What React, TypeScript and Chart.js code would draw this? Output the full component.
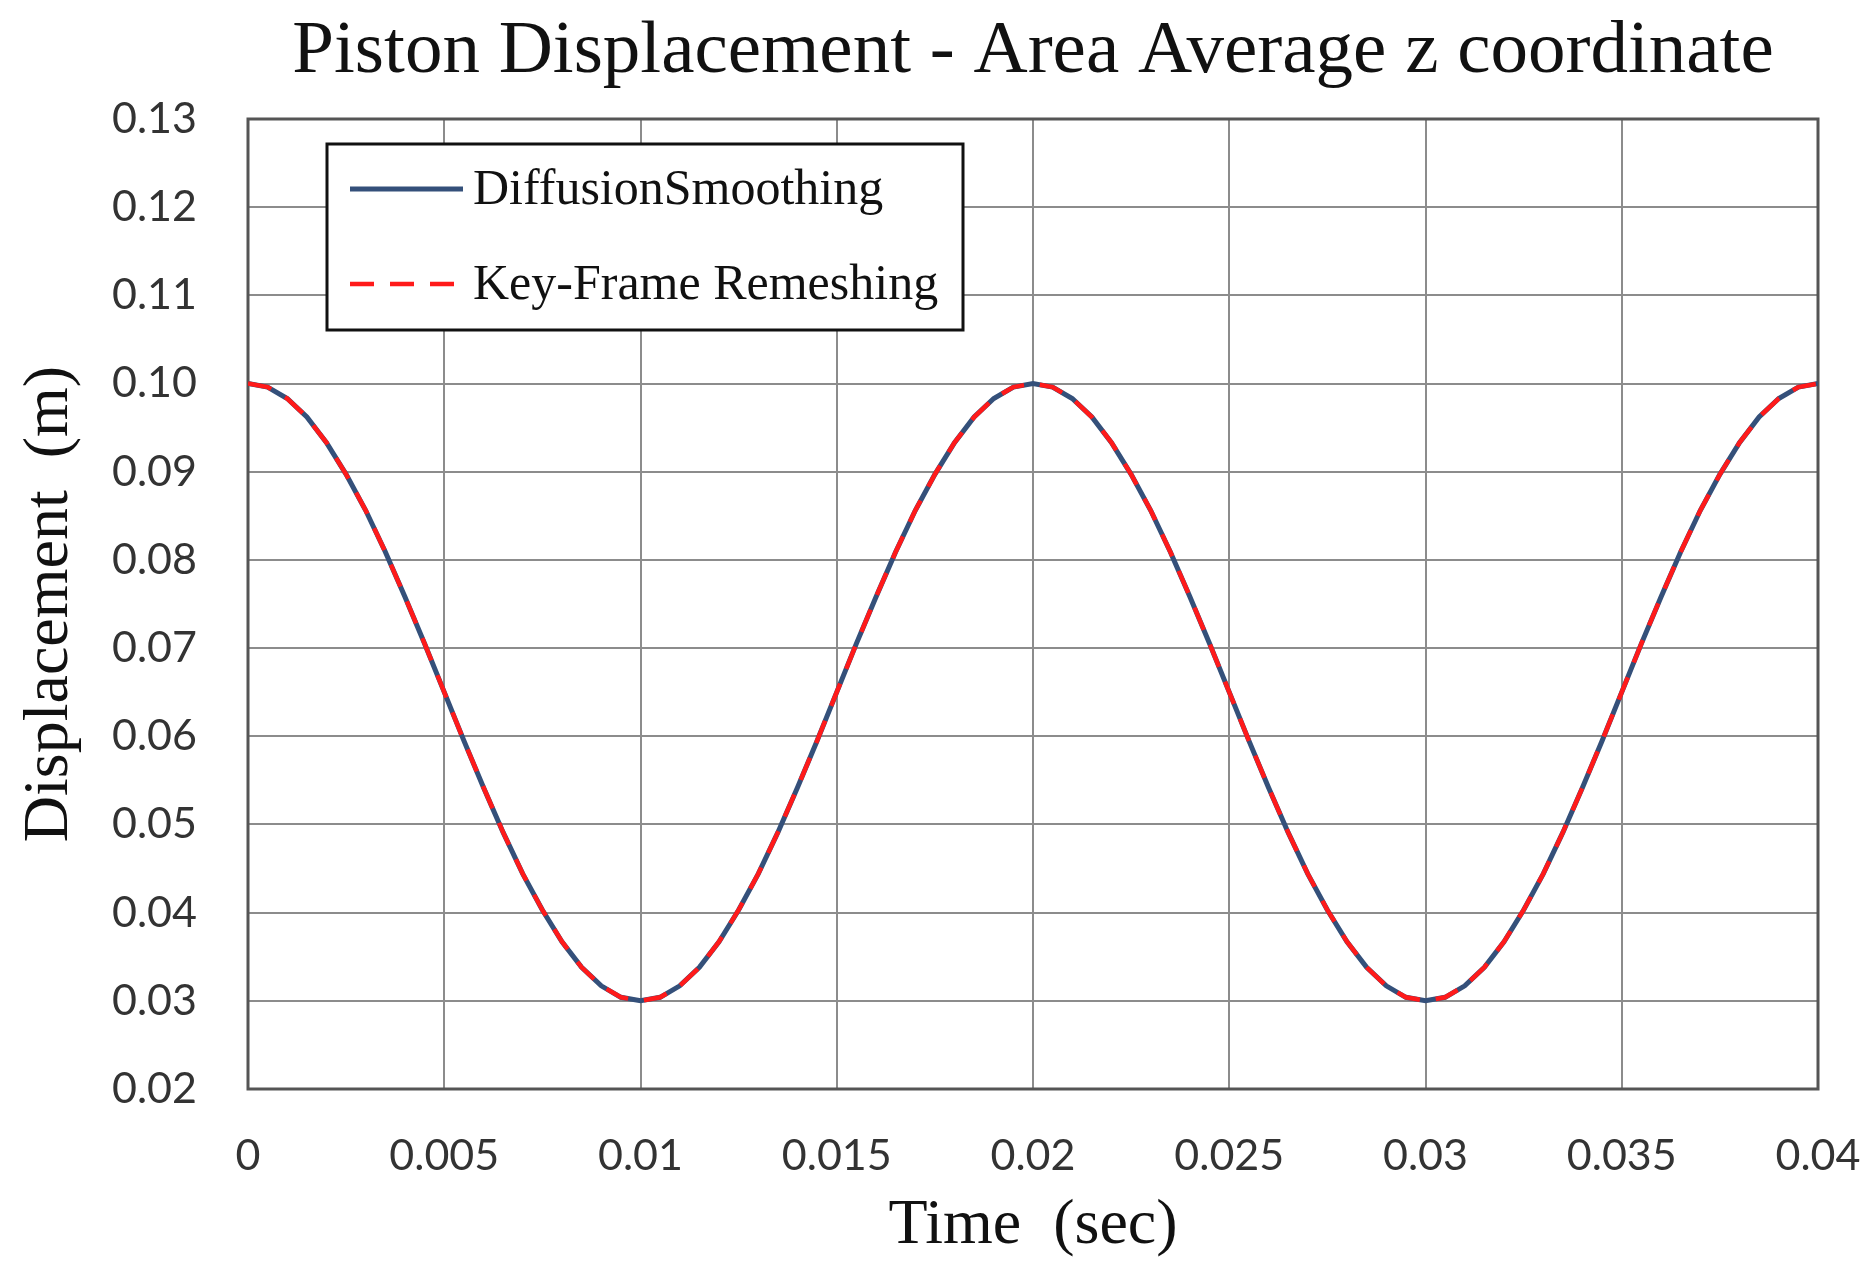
import React, { useEffect, useRef } from "react";
import { Chart, registerables } from "chart.js";

Chart.register(...registerables);

const TITLE = "Piston Displacement - Area Average z coordinate";
const X_TITLE = "Time  (sec)";
const Y_TITLE = "Displacement  (m)";
const SERIES_NAMES = ["DiffusionSmoothing", "Key-Frame Remeshing"];
const SERIES_COLORS = ["#34507a", "#ff1a1a"];

const timeSec = [
  0, 0.0005, 0.001, 0.0015, 0.002, 0.0025, 0.003, 0.0035, 0.004, 0.0045,
  0.005, 0.0055, 0.006, 0.0065, 0.007, 0.0075, 0.008, 0.0085, 0.009, 0.0095,
  0.01, 0.0105, 0.011, 0.0115, 0.012, 0.0125, 0.013, 0.0135, 0.014, 0.0145,
  0.015, 0.0155, 0.016, 0.0165, 0.017, 0.0175, 0.018, 0.0185, 0.019, 0.0195,
  0.02, 0.0205, 0.021, 0.0215, 0.022, 0.0225, 0.023, 0.0235, 0.024, 0.0245,
  0.025, 0.0255, 0.026, 0.0265, 0.027, 0.0275, 0.028, 0.0285, 0.029, 0.0295,
  0.03, 0.0305, 0.031, 0.0315, 0.032, 0.0325, 0.033, 0.0335, 0.034, 0.0345,
  0.035, 0.0355, 0.036, 0.0365, 0.037, 0.0375, 0.038, 0.0385, 0.039, 0.0395,
  0.04,
];

const diffusionSmoothing = [
  0.1, 0.0996, 0.0983, 0.0962, 0.0933, 0.0897, 0.0856, 0.0809, 0.0758, 0.0705,
  0.065, 0.0595, 0.0542, 0.0491, 0.0444, 0.0403, 0.0367, 0.0338, 0.0317, 0.0304,
  0.03, 0.0304, 0.0317, 0.0338, 0.0367, 0.0403, 0.0444, 0.0491, 0.0542, 0.0595,
  0.065, 0.0705, 0.0758, 0.0809, 0.0856, 0.0897, 0.0933, 0.0962, 0.0983, 0.0996,
  0.1, 0.0996, 0.0983, 0.0962, 0.0933, 0.0897, 0.0856, 0.0809, 0.0758, 0.0705,
  0.065, 0.0595, 0.0542, 0.0491, 0.0444, 0.0403, 0.0367, 0.0338, 0.0317, 0.0304,
  0.03, 0.0304, 0.0317, 0.0338, 0.0367, 0.0403, 0.0444, 0.0491, 0.0542, 0.0595,
  0.065, 0.0705, 0.0758, 0.0809, 0.0856, 0.0897, 0.0933, 0.0962, 0.0983, 0.0996,
  0.1,
];

const keyFrameRemeshing = [
  0.1, 0.0996, 0.0983, 0.0962, 0.0933, 0.0897, 0.0856, 0.0809, 0.0758, 0.0705,
  0.065, 0.0595, 0.0542, 0.0491, 0.0444, 0.0403, 0.0367, 0.0338, 0.0317, 0.0304,
  0.03, 0.0304, 0.0317, 0.0338, 0.0367, 0.0403, 0.0444, 0.0491, 0.0542, 0.0595,
  0.065, 0.0705, 0.0758, 0.0809, 0.0856, 0.0897, 0.0933, 0.0962, 0.0983, 0.0996,
  0.1, 0.0996, 0.0983, 0.0962, 0.0933, 0.0897, 0.0856, 0.0809, 0.0758, 0.0705,
  0.065, 0.0595, 0.0542, 0.0491, 0.0444, 0.0403, 0.0367, 0.0338, 0.0317, 0.0304,
  0.03, 0.0304, 0.0317, 0.0338, 0.0367, 0.0403, 0.0444, 0.0491, 0.0542, 0.0595,
  0.065, 0.0705, 0.0758, 0.0809, 0.0856, 0.0897, 0.0933, 0.0962, 0.0983, 0.0996,
  0.1,
];

const xTickValues = [0, 0.005, 0.01, 0.015, 0.02, 0.025, 0.03, 0.035, 0.04];
const xTickLabels = ["0", "0.005", "0.01", "0.015", "0.02", "0.025", "0.03", "0.035", "0.04"];
const yTickValues = [0.02, 0.03, 0.04, 0.05, 0.06, 0.07, 0.08, 0.09, 0.1, 0.11, 0.12, 0.13];
const yTickLabels = ["0.02", "0.03", "0.04", "0.05", "0.06", "0.07", "0.08", "0.09", "0.10", "0.11", "0.12", "0.13"];

const SERIF = "'Liberation Serif', 'Times New Roman', serif";
const SANS = "Lato, 'Open Sans', sans-serif";

const centerTitlePlugin = {
  id: "centerTitle",
  afterLayout(chart: any) {
    const tb = chart.titleBlock;
    if (tb) {
      tb.left = chart.chartArea.left;
      tb.right = chart.chartArea.right;
    }
  },
};

const framePlugin = {
  id: "frame",
  beforeDatasetsDraw(chart: any) {
    const { ctx, chartArea } = chart;
    ctx.save();
    ctx.strokeStyle = "#555555";
    ctx.lineWidth = 3;
    ctx.strokeRect(chartArea.left, chartArea.top, chartArea.right - chartArea.left, chartArea.bottom - chartArea.top);
    ctx.restore();
  },
};

const boxLegendPlugin = {
  id: "boxLegend",
  afterDraw(chart: any) {
    const { ctx, chartArea } = chart;
    const left = chartArea.left + 79;
    const top = chartArea.top + 25;
    const w = 636;
    const h = 186;
    ctx.save();
    ctx.fillStyle = "#ffffff";
    ctx.fillRect(left, top, w, h);
    ctx.strokeStyle = "#111111";
    ctx.lineWidth = 3;
    ctx.strokeRect(left, top, w, h);
    const rows = [top + 45, top + 140];
    chart.data.datasets.forEach((ds: any, i: number) => {
      const y = rows[i];
      ctx.beginPath();
      ctx.strokeStyle = ds.borderColor;
      ctx.lineWidth = ds.borderWidth;
      ctx.setLineDash(ds.borderDash || []);
      ctx.moveTo(left + 23, y);
      ctx.lineTo(left + 136, y);
      ctx.stroke();
      ctx.setLineDash([]);
      ctx.fillStyle = "#111111";
      ctx.font = `50px ${SERIF}`;
      ctx.textBaseline = "middle";
      ctx.textAlign = "left";
      ctx.fillText(ds.label, left + 146, y + 2);
    });
    ctx.restore();
  },
};

export default function App() {
  const canvasRef = useRef<HTMLCanvasElement | null>(null);

  useEffect(() => {
    if (!canvasRef.current) return;
    const chart = new Chart(canvasRef.current, {
      type: "line",
      data: {
        datasets: [
          {
            label: SERIES_NAMES[0],
            data: timeSec.map((t, i) => ({ x: t, y: diffusionSmoothing[i] })),
            borderColor: SERIES_COLORS[0],
            borderWidth: 5,
            pointRadius: 0,
            tension: 0,
            fill: false,
            order: 2,
          },
          {
            label: SERIES_NAMES[1],
            data: timeSec.map((t, i) => ({ x: t, y: keyFrameRemeshing[i] })),
            borderColor: SERIES_COLORS[1],
            borderWidth: 4.5,
            borderDash: [24, 16],
            pointRadius: 0,
            tension: 0,
            fill: false,
            order: 1,
          },
        ],
      },
      options: {
        responsive: false,
        animation: false,
        events: [],
        layout: { padding: { left: 0, right: 55, top: 0, bottom: 0 } },
        plugins: {
          legend: { display: false },
          tooltip: { enabled: false },
          title: {
            display: true,
            text: TITLE,
            color: "#111111",
            font: { family: SERIF, size: 75, weight: "normal" },
            padding: { top: 7, bottom: 22 },
          },
        },
        scales: {
          x: {
            type: "linear",
            min: 0,
            max: 0.04,
            afterFit: (scale: any) => {
              scale.height = 176;
              scale.paddingLeft = 0;
              scale.paddingRight = 0;
            },
            afterBuildTicks: (scale: any) => {
              scale.ticks = xTickValues.map((v) => ({ value: v }));
            },
            ticks: {
              autoSkip: false,
              maxRotation: 0,
              padding: 41,
              color: "#333333",
              font: { family: SANS, size: 43 },
              callback: (_v: any, i: number) => xTickLabels[i],
            },
            grid: { color: "#8c8c8c", lineWidth: 2, drawTicks: false },
            border: { display: false },
            title: {
              display: true,
              text: X_TITLE,
              color: "#111111",
              font: { family: SERIF, size: 64, weight: "normal" },
              padding: { top: 0, bottom: 0 },
            },
          },
          y: {
            type: "linear",
            min: 0.02,
            max: 0.13,
            afterFit: (scale: any) => {
              scale.width = 248;
            },
            afterBuildTicks: (scale: any) => {
              scale.ticks = yTickValues.map((v) => ({ value: v }));
            },
            ticks: {
              autoSkip: false,
              padding: 51,
              color: "#333333",
              font: { family: SANS, size: 43 },
              callback: (_v: any, i: number) => yTickLabels[i],
            },
            grid: { color: "#8c8c8c", lineWidth: 2, drawTicks: false },
            border: { display: false },
            title: {
              display: true,
              text: Y_TITLE,
              color: "#111111",
              font: { family: SERIF, size: 64, weight: "normal" },
              padding: { top: 12, bottom: 0 },
            },
          },
        },
      },
      plugins: [centerTitlePlugin, framePlugin, boxLegendPlugin],
    });
    return () => chart.destroy();
  }, []);

  return (
    <div style={{ position: "absolute", left: 0, top: 0, width: 1873, height: 1265, background: "#ffffff" }}>
      <canvas ref={canvasRef} width={1873} height={1265} style={{ display: "block" }} />
    </div>
  );
}
